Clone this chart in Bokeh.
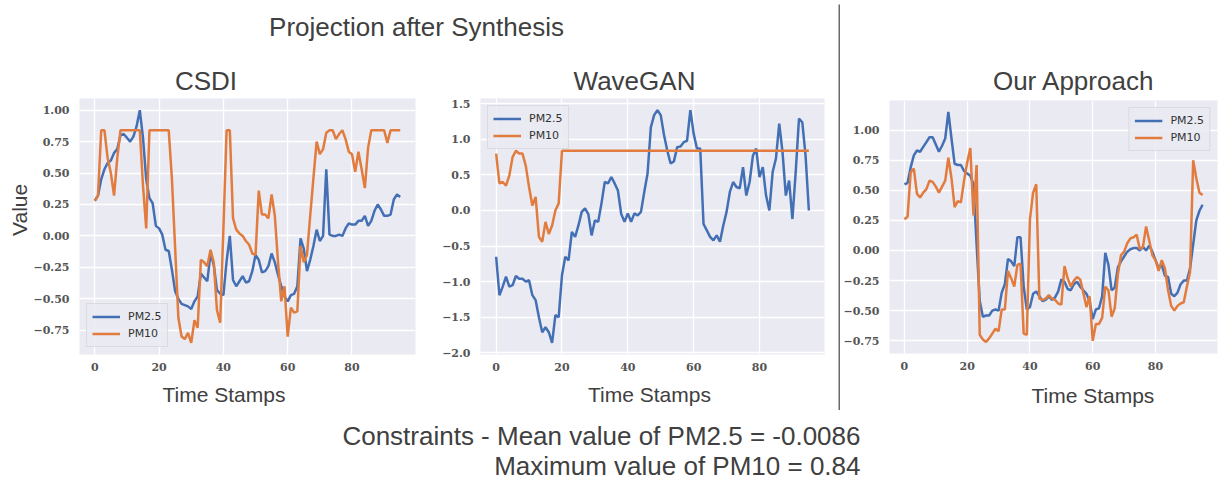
from bokeh.plotting import figure
from bokeh.layouts import row, column
from bokeh.models import Range1d, FixedTicker, CustomJSTickFormatter, Label, Legend, LegendItem
from bokeh.embed import file_html
from bokeh.resources import INLINE
import math

# ---------------- data ----------------
time_stamps = list(range(96))

csdi_pm25 = [0.28, 0.32, 0.45, 0.53, 0.58, 0.60, 0.66, 0.69, 0.80, 0.81,
             0.78, 0.75, 0.79, 0.87, 1.00, 0.78, 0.45, 0.30, 0.26, 0.08,
             0.06, 0.01, -0.11, -0.12, -0.27, -0.44, -0.50, -0.54, -0.55, -0.56,
             -0.58, -0.52, -0.48, -0.30, -0.33, -0.36, -0.14, -0.23, -0.43, -0.46,
             -0.47, -0.20, 0.00, -0.35, -0.40, -0.36, -0.32, -0.37, -0.36, -0.28,
             -0.15, -0.19, -0.29, -0.28, -0.24, -0.14, -0.21, -0.31, -0.40, -0.48,
             -0.52, -0.47, -0.46, -0.40, -0.02, -0.10, -0.28, -0.19, -0.08, 0.05,
             -0.04, 0.00, 0.53, 0.01, 0.00, 0.00, 0.01, 0.00, 0.06, 0.10,
             0.09, 0.09, 0.12, 0.12, 0.16, 0.08, 0.12, 0.20, 0.25, 0.21,
             0.16, 0.16, 0.17, 0.29, 0.33, 0.31]
csdi_pm10 = [0.28, 0.32, 0.84, 0.84, 0.62, 0.50, 0.32, 0.62, 0.84, 0.84,
             0.84, 0.84, 0.84, 0.84, 0.84, 0.40, 0.06, 0.84, 0.84, 0.84,
             0.84, 0.84, 0.84, 0.84, 0.45, -0.10, -0.65, -0.80, -0.82, -0.77,
             -0.85, -0.67, -0.73, -0.19, -0.21, -0.24, -0.11, -0.21, -0.59, -0.69,
             0.05, 0.84, 0.84, 0.14, 0.05, 0.02, 0.00, -0.04, -0.07, -0.14,
             -0.15, 0.36, 0.17, 0.17, 0.14, 0.33, 0.16, -0.21, -0.52, -0.40,
             -0.80, -0.57, -0.61, -0.60, -0.08, -0.21, -0.15, 0.16, 0.46, 0.75,
             0.65, 0.69, 0.82, 0.84, 0.84, 0.77, 0.81, 0.84, 0.77, 0.67,
             0.65, 0.51, 0.67, 0.53, 0.38, 0.70, 0.84, 0.84, 0.84, 0.84,
             0.84, 0.74, 0.84, 0.84, 0.84, 0.84]

wavegan_pm25 = [-0.65, -1.19, -1.07, -0.93, -1.07, -1.05, -0.92, -0.96, -0.96, -1.00,
                -0.98, -1.19, -1.26, -1.50, -1.71, -1.64, -1.71, -1.86, -1.47, -1.50,
                -0.91, -0.65, -0.70, -0.30, -0.37, -0.21, -0.02, 0.03, -0.05, -0.35,
                -0.14, -0.16, 0.10, 0.40, 0.38, 0.47, 0.38, 0.28, -0.05, -0.16,
                -0.04, -0.16, -0.04, -0.07, -0.02, 0.26, 0.52, 1.17, 1.34, 1.41,
                1.34, 1.06, 0.84, 0.66, 0.69, 0.89, 0.90, 0.96, 0.98, 1.41,
                1.08, 0.87, 0.87, -0.19, -0.28, -0.37, -0.42, -0.35, -0.44, -0.21,
                -0.02, 0.26, 0.40, 0.33, 0.31, 0.61, 0.21, 0.40, 0.77, 0.87,
                0.47, 0.61, 0.21, 0.00, 0.54, 0.73, 1.22, 0.82, 0.21, 0.42,
                -0.12, 0.54, 1.29, 1.24, 0.77, 0.00]
wavegan_pm10 = [0.80, 0.38, 0.40, 0.35, 0.49, 0.75, 0.84, 0.80, 0.80, 0.63,
                0.33, 0.07, 0.19, -0.37, -0.44, -0.16, -0.33, -0.21, 0.00, 0.10,
                0.84, 0.84, 0.84, 0.84, 0.84, 0.84, 0.84, 0.84, 0.84, 0.84,
                0.84, 0.84, 0.84, 0.84, 0.84, 0.84, 0.84, 0.84, 0.84, 0.84,
                0.84, 0.84, 0.84, 0.84, 0.84, 0.84, 0.84, 0.84, 0.84, 0.84,
                0.84, 0.84, 0.84, 0.84, 0.84, 0.84, 0.84, 0.84, 0.84, 0.84,
                0.84, 0.84, 0.84, 0.84, 0.84, 0.84, 0.84, 0.84, 0.84, 0.84,
                0.84, 0.84, 0.84, 0.84, 0.84, 0.84, 0.84, 0.84, 0.84, 0.84,
                0.84, 0.84, 0.84, 0.84, 0.84, 0.84, 0.84, 0.84, 0.84, 0.84,
                0.84, 0.84, 0.84, 0.84, 0.84, 0.84]

ours_pm25 = [0.55, 0.56, 0.69, 0.79, 0.83, 0.82, 0.86, 0.90, 0.94, 0.94,
             0.88, 0.82, 0.87, 0.93, 1.15, 0.93, 0.72, 0.71, 0.71, 0.66,
             0.64, 0.62, 0.55, 0.05, -0.42, -0.55, -0.54, -0.54, -0.50, -0.49,
             -0.50, -0.35, -0.28, -0.07, -0.09, -0.13, 0.11, 0.11, -0.30, -0.49,
             -0.47, -0.36, -0.34, -0.38, -0.42, -0.41, -0.38, -0.41, -0.39, -0.34,
             -0.24, -0.26, -0.32, -0.33, -0.28, -0.26, -0.30, -0.33, -0.36, -0.42,
             -0.57, -0.49, -0.48, -0.38, -0.02, -0.12, -0.33, -0.31, -0.14, -0.09,
             -0.05, -0.01, 0.01, 0.02, 0.02, 0.00, 0.03, 0.00, 0.04, -0.01,
             -0.08, -0.15, -0.12, -0.21, -0.22, -0.36, -0.38, -0.35, -0.28, -0.25,
             -0.25, -0.15, 0.05, 0.25, 0.33, 0.38]
ours_pm10 = [0.26, 0.28, 0.65, 0.68, 0.47, 0.44, 0.48, 0.51, 0.58, 0.57,
             0.53, 0.48, 0.53, 0.58, 0.77, 0.60, 0.36, 0.41, 0.40, 0.58,
             0.73, 0.85, 0.29, 0.71, -0.70, -0.74, -0.76, -0.73, -0.69, -0.65,
             -0.67, -0.49, -0.49, -0.17, -0.23, -0.30, -0.12, -0.11, -0.69, -0.70,
             0.26, 0.48, 0.55, -0.40, -0.41, -0.40, -0.37, -0.40, -0.41, -0.44,
             -0.45, -0.13, -0.23, -0.30, -0.25, -0.22, -0.24, -0.35, -0.47, -0.38,
             -0.75, -0.61, -0.61, -0.56, -0.30, -0.33, -0.55, -0.48, -0.20, -0.04,
             -0.01, 0.06, 0.10, 0.11, 0.13, 0.01, 0.03, 0.20, 0.08, -0.04,
             -0.08, -0.17, -0.08, -0.15, -0.33, -0.46, -0.50, -0.46, -0.44, -0.43,
             -0.30, -0.18, 0.75, 0.60, 0.48, 0.46]

x_ticks = [0, 20, 40, 60, 80]
csdi_y_ticks = [-0.75, -0.5, -0.25, 0.0, 0.25, 0.5, 0.75, 1.0]
wavegan_y_ticks = [-2.0, -1.5, -1.0, -0.5, 0.0, 0.5, 1.0, 1.5]
ours_y_ticks = [-0.75, -0.5, -0.25, 0.0, 0.25, 0.5, 0.75, 1.0]

series_names = ["PM2.5", "PM10"]
panel_titles = ["CSDI", "WaveGAN", "Our Approach"]
main_title = "Projection after Synthesis"
x_label = "Time Stamps"
y_label = "Value"
constraint_lines = ["Constraints - Mean value of PM2.5 = -0.0086",
                    "Maximum value of PM10 = 0.84"]

# ---------------- style ----------------
BLUE = "#4370B4"
ORANGE = "#E27C3E"
BG = "#EAEAF2"
TXT = "#404040"
TICK = "#555555"
SANS = "Liberation Sans"


def blank(w, h):
    f = figure(width=w, height=h, x_range=Range1d(0, w), y_range=Range1d(0, h),
               x_axis_type=None, y_axis_type=None, toolbar_location=None,
               output_backend="svg", min_border_left=0, min_border_right=0,
               min_border_top=0, min_border_bottom=0)
    f.outline_line_color = None
    f.grid.visible = False
    f.background_fill_color = "white"
    f.border_fill_color = "white"
    return f


def text(f, x, y, s, size="26px", align="center", angle=0.0):
    f.add_layout(Label(x=x, y=y, text=s, text_align=align, text_baseline="middle",
                       angle=angle, text_font=SANS, text_font_size=size,
                       text_color=TXT))


def panel(w, h, bl, br, bt, bb, pm25, pm10, yticks, digits, loc):
    lo = min(min(pm25), min(pm10))
    hi = max(max(pm25), max(pm10))
    pad = 0.05 * (hi - lo)
    xpad = 0.05 * (max(time_stamps) - min(time_stamps))
    p = figure(width=w, height=h,
               x_range=Range1d(min(time_stamps) - xpad, max(time_stamps) + xpad),
               y_range=Range1d(lo - pad, hi + pad),
               toolbar_location=None, output_backend="svg",
               min_border_left=bl, min_border_right=br,
               min_border_top=bt, min_border_bottom=bb)
    p.background_fill_color = BG
    p.border_fill_color = "white"
    p.outline_line_color = None
    for ax in p.axis:
        ax.axis_line_color = None
        ax.major_tick_line_color = None
        ax.minor_tick_line_color = None
        ax.major_tick_out = 0
        ax.major_tick_in = 0
        ax.major_label_text_font = "DejaVu Serif"
        ax.major_label_text_font_size = "11px"
        ax.major_label_text_font_style = "bold"
        ax.major_label_text_color = TICK
    p.xaxis.major_label_standoff = 8
    p.yaxis.major_label_standoff = 10
    p.xaxis.ticker = FixedTicker(ticks=x_ticks)
    p.yaxis.ticker = FixedTicker(ticks=yticks)
    p.xaxis.formatter = CustomJSTickFormatter(code="return tick.toFixed(0);")
    p.yaxis.formatter = CustomJSTickFormatter(
        code="return (tick < -1e-9 ? '\\u2212' : '') + Math.abs(tick).toFixed(%d);" % digits)
    p.grid.grid_line_color = "white"
    p.grid.grid_line_width = 1.3
    r1 = p.line(time_stamps, pm25, line_color=BLUE, line_width=2.5)
    r2 = p.line(time_stamps, pm10, line_color=ORANGE, line_width=2.5)
    leg = Legend(items=[LegendItem(label=series_names[0], renderers=[r1]),
                        LegendItem(label=series_names[1], renderers=[r2])],
                 location=loc, margin=7, padding=5, spacing=2,
                 glyph_width=28, glyph_height=15, label_height=15, label_standoff=8,
                 label_text_font="DejaVu Sans", label_text_font_size="11px",
                 label_text_color="#333333",
                 background_fill_color=BG, background_fill_alpha=0.85,
                 border_line_color="#CCCCCC", border_line_width=1)
    p.add_layout(leg)
    return p


# ---------------- layout ----------------
PH = 285  # height of the panel row (page y 95..380)

header_left = blank(838, 95)
text(header_left, 416, 69, main_title)
text(header_left, 205.5, 15, panel_titles[0])
text(header_left, 634, 15, panel_titles[1])

ystrip = blank(30, PH)
text(ystrip, 18.5, 161, y_label, size="21px", angle=math.pi / 2)

f1 = panel(390, PH, 48, 5, 2, 25, csdi_pm25, csdi_pm10, csdi_y_ticks, 2, "bottom_left")
f2 = panel(418, PH, 60, 14, 3, 26, wavegan_pm25, wavegan_pm10, wavegan_y_ticks, 1, "top_left")

xstrip_left = blank(838, 30)
text(xstrip_left, 223.5, 15.8, x_label, size="21px")
text(xstrip_left, 649, 15.8, x_label, size="21px")

left_col = column(header_left, row(ystrip, f1, f2), xstrip_left)

divider = figure(width=2, height=410, x_axis_type=None, y_axis_type=None,
                 toolbar_location=None, output_backend="svg",
                 min_border_left=0, min_border_right=0, min_border_top=4, min_border_bottom=0)
divider.outline_line_color = None
divider.grid.visible = False
divider.background_fill_color = "#6A6A6A"
divider.border_fill_color = "white"

header_right = blank(379, 95)
text(header_right, 213, 15, panel_titles[2])
f3 = panel(379, PH, 48, 2, 5, 27, ours_pm25, ours_pm10, ours_y_ticks, 2, "top_right")
xstrip_right = blank(379, 30)
text(xstrip_right, 235, 15.5, x_label, size="21px")
right_col = column(header_right, f3, xstrip_right)

footer = blank(1219, 70)
text(footer, 860, 44.5, constraint_lines[0], align="right")
text(footer, 860, 15, constraint_lines[1], align="right")

layout = column(row(left_col, divider, right_col), footer)

open("out.html", "w").write(file_html(layout, INLINE))
